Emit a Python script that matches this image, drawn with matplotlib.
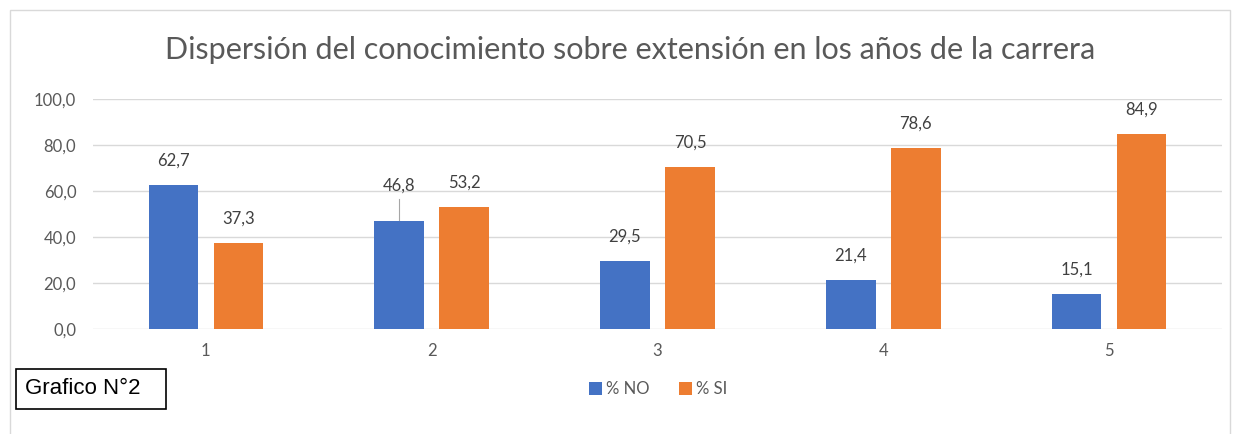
import matplotlib.pyplot as plt
import numpy as np
from matplotlib.patches import Rectangle

years = ['1', '2', '3', '4', '5']
pct_no = [62.7, 46.8, 29.5, 21.4, 15.1]
pct_si = [37.3, 53.2, 70.5, 78.6, 84.9]
yticks = [0, 20, 40, 60, 80, 100]

plt.rcParams['font.family'] = ['Lato', 'DejaVu Sans']

W, H = 1238, 434
fig = plt.figure(figsize=(W / 100, H / 100), dpi=100)
ax = fig.add_axes([0.0751, 0.242, 0.912, 0.530])

# outer chart border
fig.patches.append(Rectangle((10 / W, -0.01), 1220 / W, 1 - 10 / H + 0.01,
                             transform=fig.transFigure, fill=False,
                             edgecolor='#d9d9d9', linewidth=1))

x = np.arange(len(years))
w = 0.22
off = 0.144
b1 = ax.bar(x - off, pct_no, w, color='#4472c4', label='% NO', zorder=3)
b2 = ax.bar(x + off, pct_si, w, color='#ed7d31', label='% SI', zorder=3)

for bars, vals in ((b1, pct_no), (b2, pct_si)):
    for i, (b, v) in enumerate(zip(bars, vals)):
        txt = f'{v:.1f}'.replace('.', ',')
        cx = b.get_x() + b.get_width() / 2
        if bars is b1 and i == 1:
            # label pulled up with a leader line
            ax.text(cx, v + 15.5, txt, ha='center', va='center',
                    fontsize=12, color='#404040')
            ax.plot([cx, cx], [v + 0.5, v + 9.5], color='#a6a6a6', lw=0.8, zorder=4)
        else:
            ax.text(cx, v + 10.5, txt, ha='center', va='center',
                    fontsize=12, color='#404040')

ax.set_xlim(-0.5, len(years) - 0.5)
ax.set_ylim(0, 100)
ax.set_xticks(x)
ax.set_xticklabels(years)
ax.set_yticks(yticks)
ax.set_yticklabels([f'{t:.1f}'.replace('.', ',') for t in yticks])
ax.tick_params(length=0, labelsize=12, colors='#595959', pad=12)
ax.tick_params(axis='x', pad=10)
ax.grid(axis='y', color='#d9d9d9', linewidth=1, zorder=0)
for s in ax.spines.values():
    s.set_visible(False)

fig.text(630 / W, 1 - 50 / H,
         'Dispersión del conocimiento sobre extensión en los años de la carrera',
         fontsize=22, color='#595959', ha='center', va='center')

fig.legend(loc='center', bbox_to_anchor=(658 / W, 1 - 389 / H), ncol=2, frameon=False,
           fontsize=12, handlelength=0.8, handleheight=0.8, handletextpad=0.25,
           columnspacing=1.75, labelcolor='#595959', borderpad=0, borderaxespad=0)

# "Grafico N°2" box
fig.patches.append(Rectangle((16 / W, 1 - 409 / H), 150 / W, 40 / H,
                             transform=fig.transFigure, facecolor='white',
                             edgecolor='black', linewidth=1.2))
fig.text(25 / W, 1 - 389 / H, 'Grafico N°2', fontsize=16, family='Liberation Sans',
         va='center', ha='left', color='black')

fig.savefig('out.png', dpi=100)
